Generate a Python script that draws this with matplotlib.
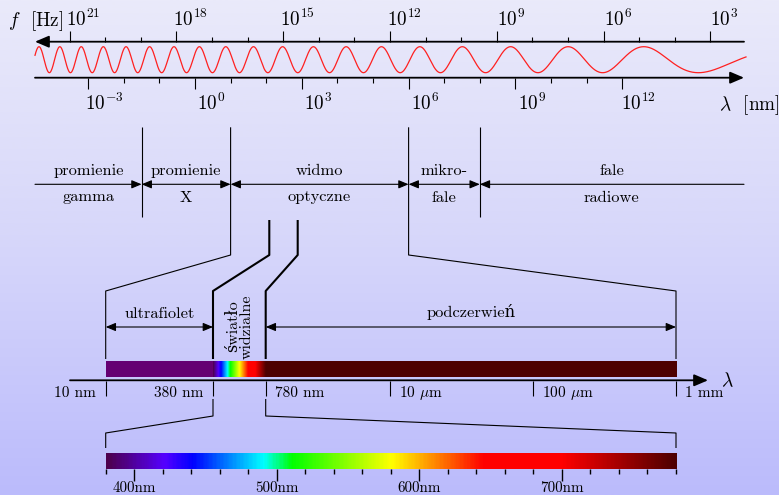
import numpy as np
from matplotlib import pyplot as plt
from matplotlib.colors import LinearSegmentedColormap

# widmo fal elektromagnetycznych, rysowane w pikselach obrazka (779 x 495)

# --- dane ---
FREQ_EXP = [21, 18, 15, 12, 9, 6, 3]            # podpisy osi f [Hz]
FREQ_MINOR_EXP = list(range(3, 22))
WAVE_EXP = [-3, 0, 3, 6, 9, 12]                 # podpisy osi lambda [nm]
WAVE_MINOR_EXP = list(range(-3, 13))
C_NM = 2.998e17                                 # predkosc swiatla w nm/s

BAND_EDGES_NM = [10 ** -1.5, 10.0, 1e6, 1e8]
BAND_TOP = ["promienie", "promienie", "widmo", "mikro-", "fale"]
BAND_BOTTOM = ["gamma", "X", "optyczne", "fale", "radiowe"]

DETAIL_NM = [10, 380, 780, 1e4, 1e5, 1e6]
DETAIL_LABELS = ["10 nm", "380 nm", "780 nm", r"10 $\mu$m", r"100 $\mu$m", "1 mm"]

VIS_NM = list(range(380, 781, 20))
VIS_MAJOR_NM = [400, 500, 600, 700]

SPECTRUM_NM = [380, 420, 440, 490, 510, 580, 645, 700, 780]
SPECTRUM_COL = ['#4d004d', '#5500ff', '#0000ff', '#00ffff', '#00ff00',
                '#ffff00', '#ff0000', '#ff0000', '#4d0000']
UV_COLOR = '#650072'
IR_COLOR = '#4d0000'

# --- uklad ---
W, H = 779, 495
X0, DEC = 195.0, 35.6          # polozenie 1 nm i szerokosc dekady
LEFT, RIGHT = 35.0, 744.0
Y_F, Y_L = 41.7, 77.7
DET_X = [105.7, 213.0, 265.7, 390.0, 533.0, 676.0]
DET_SIDE = [-1, -1, 1, 1, 1, 1]
VIS_TOP_X = [269.3, 297.7]


def xl(nm):
    return X0 + DEC * np.log10(nm)


def xd(nm):
    return np.interp(np.log10(nm), np.log10(DETAIL_NM), DET_X)


def xv(nm):
    return DET_X[0] + (np.asarray(nm) - 380.0) * (DET_X[-1] - DET_X[0]) / 400.0


plt.rcParams['font.family'] = ['cmr10', 'DejaVu Serif']
plt.rcParams['mathtext.fontset'] = 'cm'
plt.rcParams['axes.unicode_minus'] = False

fig = plt.figure(figsize=(7.79, 4.95), dpi=100)
ax = fig.add_axes([0, 0, 1, 1])
ax.axis('off')

# tlo - gradient
bg = LinearSegmentedColormap.from_list('bg', ['#eaeafa', '#d6d6fa', '#bbbbfc'])
ax.imshow(np.linspace(0, 1, 256).reshape(-1, 1), cmap=bg, extent=[0, W, H, 0],
          aspect='auto', zorder=0)

spec = LinearSegmentedColormap.from_list(
    'spec', [((n - 380) / 400.0, c) for n, c in zip(SPECTRUM_NM, SPECTRUM_COL)])


def line(xs, ys, lw=0.8, color='k'):
    ax.plot(xs, ys, color=color, lw=lw, solid_capstyle='butt', zorder=3)


def arrow(x0, x1, y, style, lw=0.8, ms=10):
    ax.annotate('', xy=(x1, y), xytext=(x0, y),
                arrowprops=dict(arrowstyle=style, lw=lw, color='k',
                                shrinkA=0, shrinkB=0, mutation_scale=ms))


# --- gorne osie ---
arrow(RIGHT, LEFT, Y_F, '-|>,head_length=0.7,head_width=0.3', lw=1.3, ms=12)
arrow(LEFT, RIGHT, Y_L, '-|>,head_length=0.7,head_width=0.3', lw=1.3, ms=12)

for e in FREQ_MINOR_EXP:
    x = xl(C_NM / 10.0 ** e)
    ln = 11 if e in FREQ_EXP else 4.7
    line([x, x], [Y_F - ln, Y_F], lw=0.8)
for e in FREQ_EXP:
    x = xl(C_NM / 10.0 ** e)
    ax.text(x + 14, 26, r'$10^{%d}$' % e, ha='center', va='baseline', fontsize=13.8)

for e in WAVE_MINOR_EXP:
    x = xl(10.0 ** e)
    ln = 11.3 if e in WAVE_EXP else 5
    line([x, x], [Y_L, Y_L + ln], lw=0.8)
for e in WAVE_EXP:
    x = xl(10.0 ** e)
    ax.text(x + 16.5, 110, r'$10^{%d}$' % e, ha='center', va='baseline', fontsize=13.8)

ax.text(8, 26, r'$f$  [Hz]', ha='left', va='baseline', fontsize=13.8)
ax.text(719, 110, r'$\lambda$  [nm]', ha='left', va='baseline', fontsize=13.8)

# fala (szkic, rosnaca dlugosc fali)
xs = np.linspace(LEFT, 746, 1500)
a, b = 0.0511, 6.25e-5
phase = 2 * np.pi * (a * (xs - 39) - b / 2 * (xs ** 2 - 39 ** 2))
ax.plot(xs, 59.7 - 13 * np.cos(phase), color='#ff2020', lw=0.9, zorder=3)

# --- zakresy widma ---
edges = [LEFT] + [xl(e) for e in BAND_EDGES_NM] + [RIGHT]
hd = ',head_length=0.6,head_width=0.25'
for i in range(len(BAND_TOP)):
    if i == 0:
        style = '-|>' + hd
    elif i == len(BAND_TOP) - 1:
        style = '<|-' + hd
    else:
        style = '<|-|>' + hd
    arrow(edges[i], edges[i + 1], 184.3, style, lw=0.8, ms=10)
    xc = (edges[i] + edges[i + 1]) / 2
    ax.text(xc, 175, BAND_TOP[i], ha='center', va='baseline', fontsize=11.8)
    ax.text(xc, 201.5, BAND_BOTTOM[i], ha='center', va='baseline', fontsize=11.8)

for e in [BAND_EDGES_NM[0], BAND_EDGES_NM[3]]:
    line([xl(e), xl(e)], [127.3, 216.7])

# lejek do szczegolowego widma
line([xl(10), xl(10), DET_X[0], DET_X[0]], [127.3, 255, 291, 359])
line([xl(1e6), xl(1e6), DET_X[-1], DET_X[-1]], [127.3, 255, 291, 359])
line([VIS_TOP_X[0], VIS_TOP_X[0], xd(380), xd(380)], [220, 255, 291, 359], lw=1.5)
line([VIS_TOP_X[1], VIS_TOP_X[1], xd(780), xd(780)], [220, 255, 291, 359], lw=1.5)

arrow(xd(10), xd(380), 327, '<|-|>' + hd)
arrow(xd(780), xd(1e6), 327, '<|-|>' + hd)
ax.text((xd(10) + xd(380)) / 2, 317.5, 'ultrafiolet', ha='center', va='baseline', fontsize=11.8)
ax.text((xd(780) + xd(1e6)) / 2, 317.5, 'podczerwień', ha='center', va='baseline', fontsize=11.8)
ax.text(240, 326.5, 'światło\nwidzialne', rotation=90, ha='center', va='center',
        multialignment='center', linespacing=0.95, fontsize=11.5)

# pasek widma 10 nm - 1 mm
grad = np.linspace(0, 1, 400).reshape(1, -1)
ax.imshow([[0]], cmap=LinearSegmentedColormap.from_list('uv', [UV_COLOR, UV_COLOR]),
          extent=[xd(10), xd(380), 377, 361.7], aspect='auto', zorder=1)
ax.imshow(grad, cmap=spec, extent=[xd(380), xd(780), 377, 361.7],
          aspect='auto', zorder=1)
ax.imshow([[0]], cmap=LinearSegmentedColormap.from_list('ir', [IR_COLOR, IR_COLOR]),
          extent=[xd(780), xd(1e6), 377, 361.7], aspect='auto', zorder=1)

arrow(70, 708, 380.3, '-|>,head_length=0.7,head_width=0.3', lw=1.3, ms=12)
ax.text(721, 386, r'$\lambda$', ha='left', va='baseline', fontsize=14)
for nm, lab, side in zip(DETAIL_NM, DETAIL_LABELS, DET_SIDE):
    x = xd(nm)
    line([x, x], [381, 396])
    ax.text(x + 9.5 * side, 393.5, lab, ha='right' if side < 0 else 'left',
            va='center', fontsize=11)

line([xd(380), xd(380), xv(380), xv(380)], [399, 416, 433, 448])
line([xd(780), xd(780), xv(780), xv(780)], [399, 416, 433, 448])

# pasek swiatla widzialnego 380 - 780 nm
ax.imshow(grad, cmap=spec, extent=[xv(380), xv(780), 469.3, 454],
          aspect='auto', zorder=1)
for nm in VIS_NM:
    x = xv(nm)
    line([x, x], [469.3, 481 if nm in VIS_MAJOR_NM else 474], lw=1.0)
for nm in VIS_MAJOR_NM:
    ax.text(xv(nm), 494.6, '%dnm' % nm, ha='center', va='bottom', fontsize=10.8)

ax.set_xlim(0, W)
ax.set_ylim(H, 0)
fig.savefig('out.png', dpi=100)
